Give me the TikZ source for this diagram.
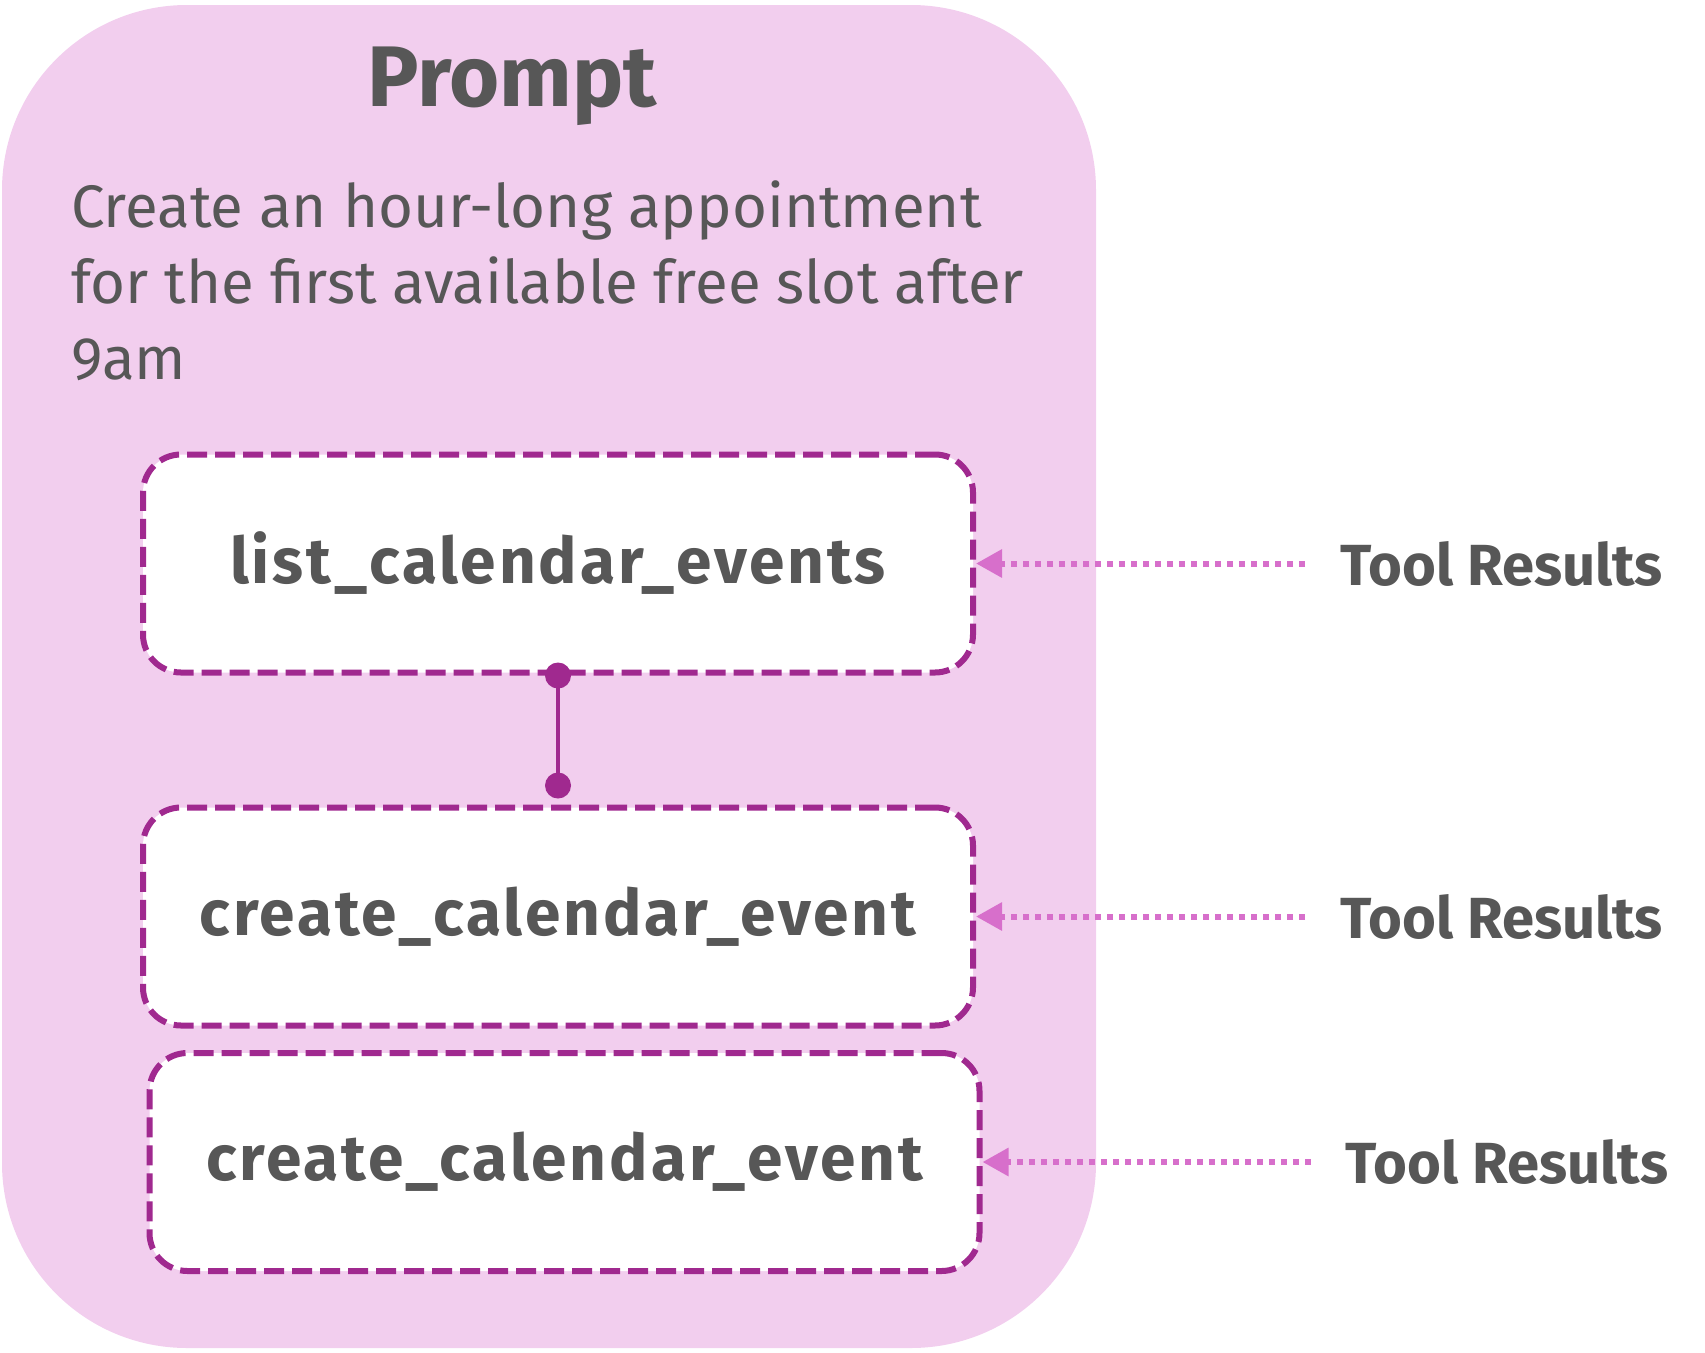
\documentclass[tikz,border=0pt]{standalone}
\usepackage{fontspec}
\setmainfont{Fira Sans}
\usetikzlibrary{calc}
\usetikzlibrary{arrows.meta}
\usetikzlibrary{positioning}
\definecolor{prompt-pink}{HTML}{F2CEEE}
\definecolor{tool-purple}{HTML}{A0298F}
\definecolor{result-pink}{HTML}{D76FCB}
\definecolor{text-gray}{HTML}{575757}

\begin{document}
\begin{tikzpicture}
  [
    x=1pt, y=-1pt,
    tool/.style = {draw=tool-purple, fill=white, line width=6pt, dash pattern=on 20pt off 8pt,
                   rounded corners=38pt, minimum width=830pt, minimum height=218pt,
                   font=\fontsize{64}{72}\selectfont\bfseries\addfontfeatures{LetterSpace=4.5}, text=text-gray},
    result/.style = {font=\fontsize{58}{66}\selectfont\bfseries, text=text-gray, inner sep=0pt},
    feed/.style = {draw=result-pink, line width=6pt, dash pattern=on 6pt off 6pt,
                   -{Triangle[length=26pt, width=27pt]}},
    link/.style = {draw=tool-purple, line width=4pt}
  ]
% Frame
\useasboundingbox (0, 0) rectangle (1705, 1352);
\fill[prompt-pink, rounded corners=185pt] (2, 5) rectangle (1096, 1348);

% ---------------------------------------------------
% Prompt
\node[text=text-gray, font=\fontsize{86}{96}\selectfont\bfseries] (title) at (512, 86) {Prompt};
\node[anchor=north west, inner sep=0pt, align=left, text=text-gray,
      font=\fontsize{60}{76}\selectfont] (ask) at (71, 180)
     {Create an hour-long appointment\\ for the first available free slot after\\ 9am};

% Tool calls
\node[tool] (list) at (558, 563.5) {list\_calendar\_events};
\node[tool] (create1) at (558, 916.5) {create\_calendar\_event};
\node[tool] (create2) at (564.5, 1162) {create\_calendar\_event};

% Link between the first two calls
\coordinate[] (dot) at ($ (create1.north) + (0, -19) $);
\draw[link] (list.south) -- (dot);
\fill[tool-purple] (list.south) circle (13pt) (dot) circle (13pt);

% Tool Results
\node[result, anchor=west, right=364pt of list.east] (res1) {Tool Results};
\node[result, anchor=west, right=364pt of create1.east] (res2) {Tool Results};
\node[result, anchor=west, right=363pt of create2.east] (res3) {Tool Results};
\draw[feed] ([xshift=-35pt] res1.west) -- (list.east);
\draw[feed] ([xshift=-35pt] res2.west) -- (create1.east);
\draw[feed] ([xshift=-35pt] res3.west) -- (create2.east);
% ---------------------------------------------------
\end{tikzpicture}
\end{document}
